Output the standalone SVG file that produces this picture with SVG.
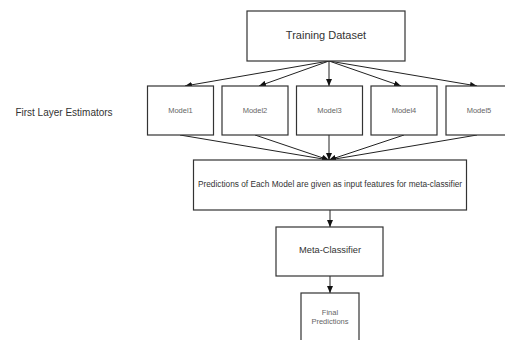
<svg xmlns="http://www.w3.org/2000/svg" width="505" height="340" viewBox="0 0 505 340">
<defs>
<marker id="ah" markerWidth="7" markerHeight="6" refX="7" refY="3" orient="auto" markerUnits="userSpaceOnUse">
<path d="M0,0 L7,3 L0,6 Z" fill="#111"/>
</marker>
<style>
.box{fill:#fff;stroke:#333;stroke-width:1.2}
.edge{stroke:#222;stroke-width:1;fill:none;marker-end:url(#ah)}
text{font-family:"Liberation Sans",Arial,sans-serif;text-anchor:middle;dominant-baseline:central}
.big{font-size:11px;fill:#333}
.mid{font-size:9.3px;fill:#333}
.pred{font-size:8.3px;fill:#333}
.small{font-size:7.5px;fill:#666}
</style>
</defs>
<rect width="505" height="340" fill="#fff"/>
<text x="64" y="112" style="font-size:10px;fill:#333">First Layer Estimators</text>
<g id="connectors">
<line class="edge" x1="329" y1="61" x2="185" y2="86"/>
<line class="edge" x1="329" y1="61" x2="259" y2="86"/>
<line class="edge" x1="329" y1="61" x2="329" y2="86"/>
<line class="edge" x1="329" y1="61" x2="401" y2="86"/>
<line class="edge" x1="329" y1="61" x2="477" y2="86"/>
<line class="edge" x1="180" y1="135" x2="329" y2="160"/>
<line class="edge" x1="255" y1="135" x2="329" y2="160"/>
<line class="edge" x1="329" y1="135" x2="329" y2="160"/>
<line class="edge" x1="404" y1="135" x2="329" y2="160"/>
<line class="edge" x1="477" y1="135" x2="329" y2="160"/>
<line class="edge" x1="330" y1="210" x2="330" y2="227"/>
<line class="edge" x1="330" y1="276" x2="330" y2="293"/>
</g>
<g id="training"><rect class="box" x="247" y="11" width="158" height="50"/><text class="big" x="326" y="35">Training Dataset</text></g>
<g id="model1"><rect class="box" x="147.5" y="86" width="66" height="49"/><text class="small" x="180.5" y="110">Model1</text></g>
<g id="model2"><rect class="box" x="222" y="86" width="66" height="49"/><text class="small" x="255" y="110">Model2</text></g>
<g id="model3"><rect class="box" x="296.5" y="86" width="66" height="49"/><text class="small" x="329.5" y="110">Model3</text></g>
<g id="model4"><rect class="box" x="371" y="86" width="66" height="49"/><text class="small" x="404" y="110">Model4</text></g>
<g id="model5"><rect class="box" x="446" y="86" width="66" height="49"/><text class="small" x="479" y="110">Model5</text></g>
<g id="predictions"><rect class="box" x="193.5" y="160" width="273" height="50"/><text class="pred" x="330" y="183.5">Predictions of Each Model are given as input features for meta-classifier</text></g>
<g id="meta"><rect class="box" x="276" y="227" width="107" height="49"/><text class="mid" x="330" y="250">Meta-Classifier</text></g>
<g id="final"><rect class="box" x="301" y="293" width="58" height="52"/><text class="small" x="330" y="312">Final</text><text class="small" x="330" y="321.5">Predictions</text></g>
</svg>
